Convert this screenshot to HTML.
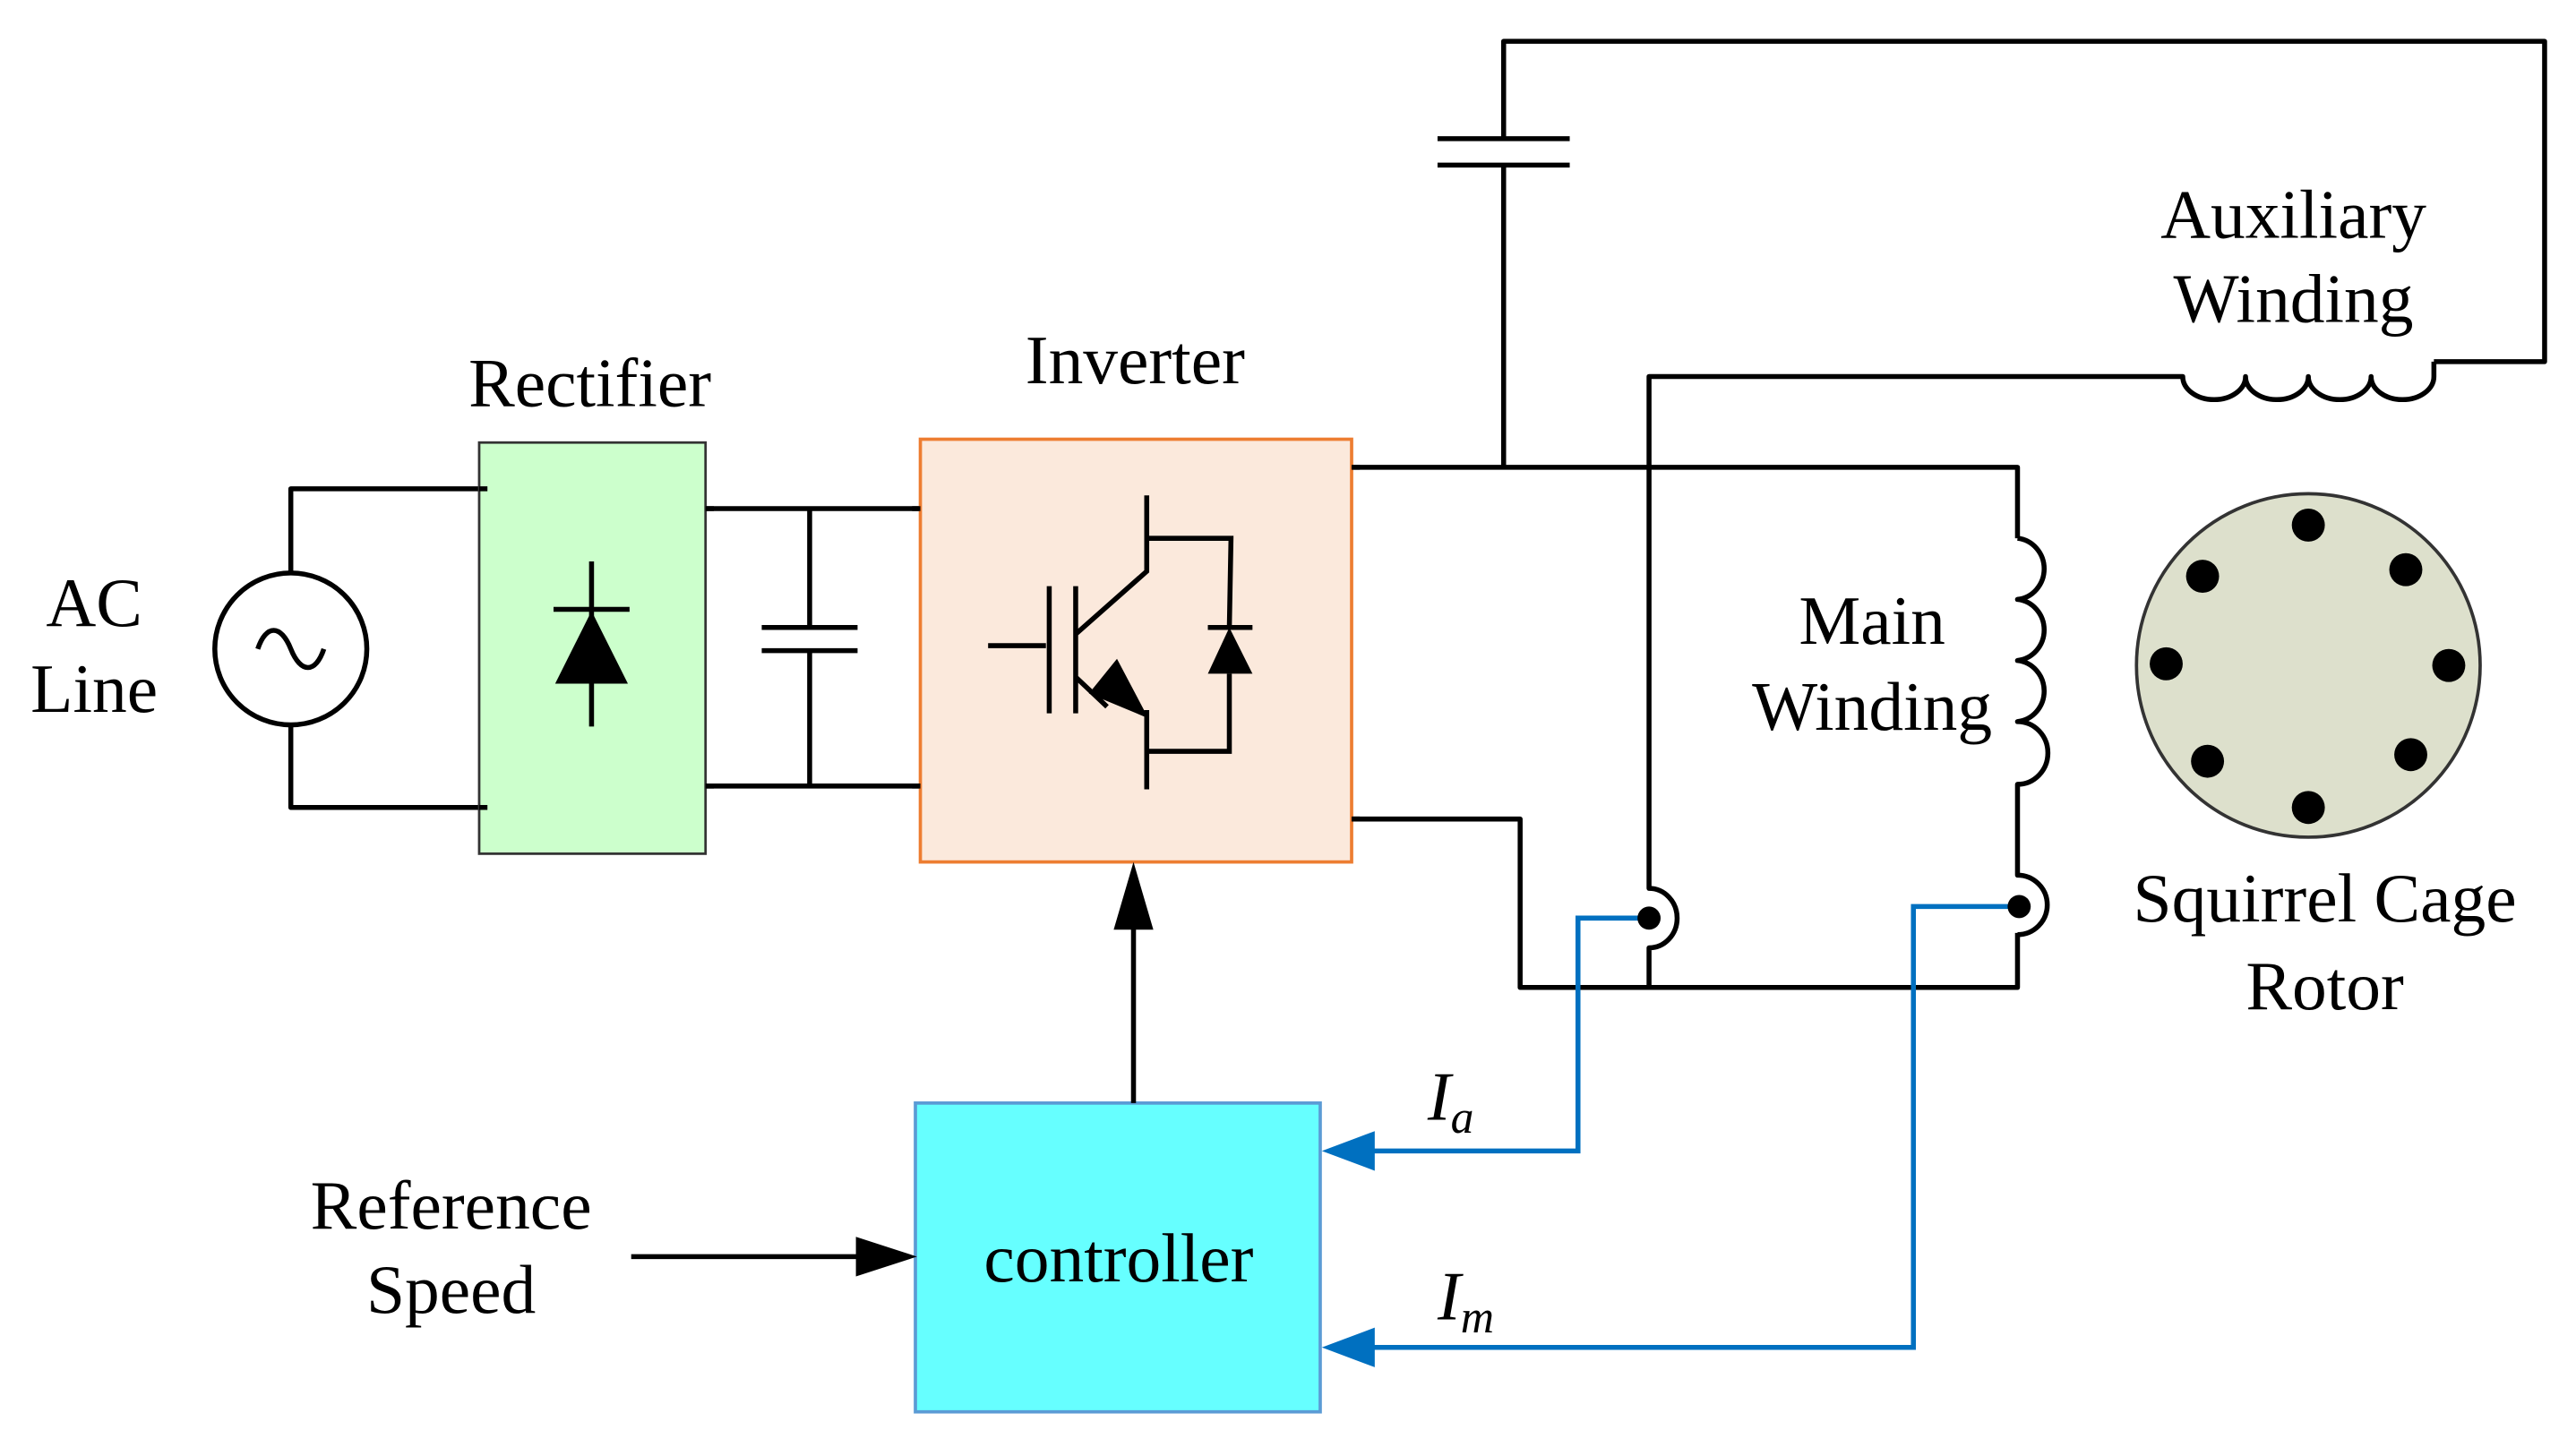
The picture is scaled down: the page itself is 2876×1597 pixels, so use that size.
<!DOCTYPE html>
<html><head><meta charset="utf-8"><style>html,body{margin:0;padding:0;background:#fff}svg{display:block}</style></head>
<body>
<svg width="2876" height="1597" viewBox="0 0 1559 866" preserveAspectRatio="none" xmlns="http://www.w3.org/2000/svg" font-family="'Liberation Serif', serif" font-size="42">
<g fill="none" stroke="#000" stroke-width="3" stroke-linejoin="round">
<circle cx="176" cy="393" r="46"/>
<path d="M156,393 C161,378 170,378 176,393 C182,408 191,408 196,393"/>
<path d="M176,347 V296 H295 M176,439 V489 H295"/>
<path d="M427,308 H557 M427,476 H557 M490,308 V380 M490,394 V476 M461,380 H519 M461,394 H519"/>
<path d="M818,283 H1221 V326 M910,283 V100 M870,100 H950 M870,84 H950 M910,84 V25 H1540 V219 H1473"/>
<path d="M818,496 H920 V598 H1221 V565"/>
<path d="M1221,326 A18,18.6 0 0 1 1221,363 A18,18.6 0 0 1 1221,400 A18,18.6 0 0 1 1221,437 A18,18.6 0 0 1 1221,475 V530 A18,18 0 0 1 1221,566"/>
<path d="M1473,219 V228 A19,14 0 0 1 1435,228 A19,14 0 0 1 1397,228 A19,14 0 0 1 1359,228 A19,14 0 0 1 1321,228 H998 V538 A17,18 0 0 1 998,574 V598"/>
</g>
<rect x="290" y="268" width="137" height="249" fill="#ccffcc" stroke="#333" stroke-width="1.5"/>
<rect x="557" y="266" width="261" height="256" fill="#fbe9dc" stroke="#ed7d31" stroke-width="2"/>
<rect x="554" y="668" width="245" height="187" fill="#66ffff" stroke="#5b9bd5" stroke-width="2"/>
<g fill="none" stroke="#000" stroke-width="3">
<path d="M358,340 V440 M335,369 H381"/>
<path d="M598,391 H633 M635,355 V432 M651,355 V432 M651,384 L694,346 V300 M694,326 H745 L744,380 M731,380 H758 M744,408 V455 H694 M694,430 V478 M651,410 L670,428"/>
<path d="M290,296 H295 M290,489 H295 M427,308 H432 M427,476 H432 M552,308 H557 M552,476 H557 M818,283 H823 M818,496 H823"/>
</g>
<polygon points="336,414 380,414 358,370" fill="#000"/>
<polygon points="731,408 758,408 744,380" fill="#000"/>
<polygon points="695,435 659,420 676,399" fill="#000"/>
<path d="M686,668 V560" stroke="#000" stroke-width="3"/>
<polygon points="674,563 698,563 686,522" fill="#000"/>
<path d="M382,761 H520" stroke="#000" stroke-width="3"/>
<polygon points="518,749 518,773 555,761" fill="#000"/>
<g fill="none" stroke="#0070c0" stroke-width="3">
<path d="M998,556 H955 V697 H830 M1222,549 H1158 V816 H830"/>
</g>
<polygon points="832,685 832,709 800,697" fill="#0070c0"/>
<polygon points="832,804 832,828 800,816" fill="#0070c0"/>
<circle cx="998" cy="556" r="7" fill="#000"/>
<circle cx="1222" cy="549" r="7" fill="#000"/>
<circle cx="1397" cy="403" r="104" fill="#dde0cc" stroke="#333" stroke-width="2"/>
<g fill="#000">
<circle cx="1397" cy="318" r="10"/><circle cx="1456" cy="345" r="10"/><circle cx="1482" cy="403" r="10"/><circle cx="1459" cy="457" r="10"/>
<circle cx="1397" cy="489" r="10"/><circle cx="1336" cy="461" r="10"/><circle cx="1311" cy="402" r="10"/><circle cx="1333" cy="349" r="10"/>
</g>
<g text-anchor="middle" fill="#000">
<text x="57" y="379">AC</text><text x="57" y="431">Line</text>
<text x="357" y="246">Rectifier</text>
<text x="687" y="232">Inverter</text>
<text x="1388" y="144">Auxiliary</text><text x="1388" y="195">Winding</text>
<text x="1133" y="390">Main</text><text x="1133" y="442">Winding</text>
<text x="1407" y="558">Squirrel Cage</text><text x="1407" y="611">Rotor</text>
<text x="273" y="744">Reference</text><text x="273" y="795">Speed</text>
<text x="677" y="776">controller</text>
</g>
<text x="864" y="678" font-style="italic">I<tspan font-size="28" dy="8">a</tspan></text>
<text x="870" y="799" font-style="italic">I<tspan font-size="28" dy="8">m</tspan></text>
</svg>
</body></html>
